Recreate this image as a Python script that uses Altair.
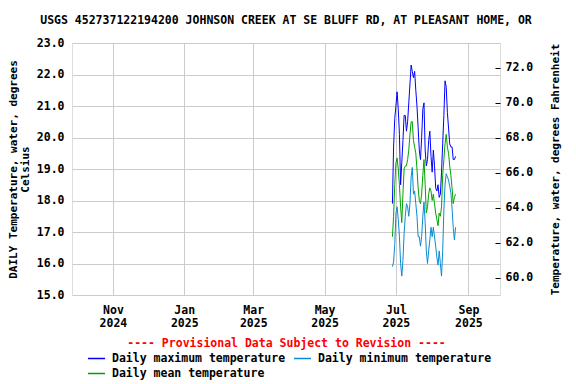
import altair as alt
import pandas as pd

FONT = "DejaVu Sans Mono"

# ---- data (deg C), daily from 2025-06-28 ----
start_date = "2025-06-28"
n_days = 55
max_c = [17.9, 19.7, 20.6, 21.0, 21.45, 20.9, 20.1, 18.5, 19.2, 19.9,
         20.7, 20.7, 20.2, 20.5, 21.1, 21.7, 22.3, 22.1, 21.9, 22.1,
         21.5, 21.0, 20.3, 19.6, 19.3, 20.0, 20.9, 21.1, 19.6, 19.1,
         19.3, 19.9, 20.2, 19.4, 18.9, 19.6, 19.1, 18.4, 18.3, 18.5,
         18.1, 18.2, 18.9, 19.8, 20.7, 21.8, 21.6, 20.8, 20.3, 19.8,
         19.7, 19.7, 19.3, 19.3, 19.4]
mean_c = [16.85, 17.5, 18.5, 19.2, 19.35, 19.0, 18.5, 17.8, 17.3, 18.2,
          19.0, 19.1, 19.1, 19.3, 19.6, 20.1, 20.5, 20.5, 19.9, 19.7,
          19.5, 19.0, 18.4, 18.0, 17.9, 18.2, 18.8, 19.3, 18.5, 17.6,
          17.8, 18.2, 18.4, 18.3, 18.0, 18.2, 17.9, 17.6, 17.4, 17.2,
          17.6, 17.5, 17.8, 18.8, 19.3, 19.8, 20.1, 19.7, 19.5, 19.1,
          18.8, 18.4, 17.9, 18.1, 18.2]
min_c = [15.9, 16.05, 16.6, 17.6, 17.8, 17.4, 16.85, 16.0, 15.6, 16.1,
         16.95, 17.5, 17.9, 17.8, 17.5, 17.9, 18.75, 19.05, 18.2, 18.3,
         17.9, 17.5, 16.85, 16.85, 16.55, 16.85, 17.5, 17.95, 17.3, 16.4,
         16.0, 16.4, 16.75, 17.15, 16.85, 17.15, 16.85, 16.55, 16.2, 15.95,
         16.4, 16.0, 15.6, 16.4, 17.7, 18.5, 18.85, 18.75, 18.65, 18.45,
         18.25, 17.75, 17.15, 16.75, 17.15]

series_names = ["Daily maximum temperature", "Daily minimum temperature",
                "Daily mean temperature"]
series_colors = ["#0000ff", "#0a8bd1", "#00a300"]
month_ticks = [(2024, 11), (2025, 1), (2025, 3), (2025, 5), (2025, 7), (2025, 9)]
c_ticks = [15, 16, 17, 18, 19, 20, 21, 22, 23]
f_ticks = [60, 62, 64, 66, 68, 70, 72]

title_text = "USGS 452737122194200 JOHNSON CREEK AT SE BLUFF RD, AT PLEASANT HOME, OR"
left_title = ["DAILY Temperature, water, degrees", "Celsius"]
right_title = "Temperature, water, degrees Fahrenheit"
provisional = "---- Provisional Data Subject to Revision ----"

dates = pd.date_range(start_date, periods=n_days, freq="D").strftime("%Y-%m-%d")
rows = []
for name, vals in zip(series_names, [max_c, min_c, mean_c]):
    for d, v in zip(dates, vals):
        rows.append({"date": d, "temp": v, "series": name})
df = pd.DataFrame(rows)

x_enc = alt.X(
    "date:T",
    scale=alt.Scale(type="utc", domain=[
        alt.DateTime(year=2024, month=9, date=27, utc=True),
        alt.DateTime(year=2025, month=9, date=28, utc=True)]),
    axis=alt.Axis(
        values=[alt.DateTime(year=y, month=m, date=1, utc=True) for y, m in month_ticks],
        labelExpr="[utcFormat(datum.value, '%b'), utcFormat(datum.value, '%Y')]",
        labelFont=FONT, labelFontSize=11.5, labelFontWeight="bold", labelColor="black",
        labelLineHeight=13, labelPadding=9,
        grid=True, gridColor="#cccccc", gridWidth=1,
        domain=False, ticks=False,
        title=provisional, titleColor="red", titleFont=FONT, titleFontSize=11.5,
        titleFontWeight="bold", titlePadding=9,
    ),
)

lines = alt.Chart().mark_line(strokeWidth=1).encode(
    x=x_enc,
    y=alt.Y("temp:Q",
            scale=alt.Scale(domain=[15, 23], nice=False, zero=False),
            axis=alt.Axis(values=c_ticks, format=".1f",
                          labelFont=FONT, labelFontSize=11.5, labelFontWeight="bold",
                          labelColor="black", labelPadding=8,
                          grid=True, gridColor="#cccccc", gridWidth=1,
                          domain=False, ticks=False,
                          title=left_title, titleFont=FONT, titleFontSize=11,
                          titleFontWeight="bold", titleColor="black",
                          titlePadding=6, titleLineHeight=12)),
    color=alt.Color("series:N",
                    scale=alt.Scale(domain=series_names, range=series_colors),
                    legend=alt.Legend(
                        title=None, orient="none", legendX=15, legendY=306,
                        direction="horizontal", columns=2, columnPadding=5,
                        rowPadding=0, padding=0,
                        symbolType="stroke", symbolSize=289, symbolStrokeWidth=1.5,
                        labelFont=FONT, labelFontSize=11.5, labelFontWeight="bold",
                        labelColor="black", labelOffset=6, labelLimit=400)),
    order=alt.Order("date:T"),
)

right = alt.Chart().mark_rule(opacity=0).encode(
    y=alt.Y(datum=66, type="quantitative",
            scale=alt.Scale(domain=[59, 73.4], nice=False, zero=False),
            axis=alt.Axis(orient="right", values=f_ticks, format=".1f",
                          labelFont=FONT, labelFontSize=11.5, labelFontWeight="bold",
                          labelColor="black", labelPadding=5,
                          grid=False, domain=False, ticks=True, tickSize=5,
                          tickColor="black", offset=-5,
                          title=right_title, titleAngle=270, titleFont=FONT,
                          titleFontSize=11, titleFontWeight="bold", titleColor="black",
                          titlePadding=28)),
)

chart = alt.layer(lines, right, data=df).resolve_scale(y="independent").properties(
    width=428, height=252,
    autosize=alt.AutoSizeParams(type="none"),
    padding={"left": 64, "top": 35, "right": 68, "bottom": 89},
    title=alt.TitleParams(title_text, font=FONT, fontSize=11.5, fontWeight="bold",
                          color="black", anchor="middle", offset=11),
).configure_view(stroke="black", strokeWidth=1).configure(background="white")

chart.save("out.html", embed_options={"renderer": "svg", "actions": False})
